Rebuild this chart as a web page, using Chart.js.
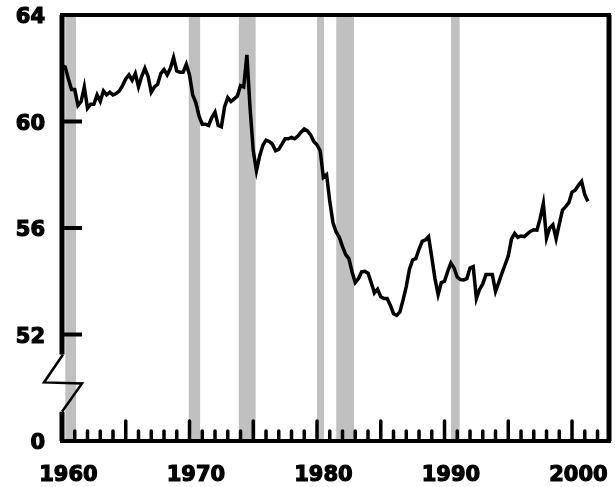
<!DOCTYPE html>
<html>
<head>
<meta charset="utf-8">
<script src="https://cdn.jsdelivr.net/npm/chart.js@4"></script>
<style>
  html, body { margin: 0; padding: 0; background: #fff; }
  #wrap { width: 615px; height: 487px; }
</style>
</head>
<body>
<div id="wrap"><canvas id="chart"></canvas></div>
<script>
// quarterly values, first quarter of 1960 onwards
const startYear = 1960;
const rate1960s = [
  62.1, 62.05, 61.6, 61.2, 61.2, 60.6, 60.75, 61.3, 60.5, 60.65,
  60.65, 61.0, 60.75, 61.15, 61.0, 61.1, 61.0, 61.05, 61.15, 61.35,
  61.6, 61.75, 61.55, 61.8, 61.3, 61.7, 62.0, 61.7, 61.1, 61.3,
  61.4, 61.8, 61.95, 61.75, 62.0, 62.4, 61.9, 61.85, 61.85, 62.15
];
const rate1970s = [
  61.75, 61.0, 60.7, 60.2, 59.9, 59.9, 59.85, 60.15, 60.35, 59.85,
  59.8, 60.55, 60.9, 60.75, 60.85, 60.95, 61.35, 61.3, 62.5, 60.5,
  58.9, 58.15, 58.7, 59.1, 59.3, 59.25, 59.15, 58.9, 58.95, 59.15,
  59.35, 59.35, 59.4, 59.35, 59.45, 59.6, 59.72, 59.65, 59.5, 59.25
];
const rate1980s = [
  59.12, 58.9, 57.9, 58.0, 57.0, 56.2, 55.85, 55.65, 55.3, 55.0,
  54.85, 54.35, 53.95, 54.1, 54.35, 54.37, 54.3, 53.95, 53.56, 53.7,
  53.42, 53.35, 53.35, 53.1, 52.78, 52.72, 52.85, 53.3, 53.8, 54.45,
  54.8, 54.85, 55.2, 55.5, 55.55, 55.67, 54.9, 54.1, 53.5, 53.95
];
const rate1990s = [
  54.0, 54.37, 54.68, 54.5, 54.15, 54.06, 54.05, 54.1, 54.5, 54.55,
  53.35, 53.7, 53.9, 54.25, 54.25, 54.25, 53.62, 53.95, 54.3, 54.62,
  54.95, 55.58, 55.8, 55.65, 55.7, 55.68, 55.78, 55.88, 55.93, 55.92,
  56.36, 56.92, 55.62, 56.0, 56.12, 55.6, 56.15, 56.67, 56.8, 56.95
];
const rate2000s = [57.35, 57.42, 57.6, 57.75, 57.25, 57.0];

// recession periods (shaded)
const recessionStart = [1960.25, 1969.92, 1973.85, 1980.0, 1981.5, 1990.5];
const recessionEnd = [1961.1, 1970.85, 1975.2, 1980.55, 1982.9, 1991.2];

// axis ticks; the bottom of the broken axis reads 0
const yTickValues = [48, 52, 56, 60, 64];
const yTickLabels = ['0', '52', '56', '60', '64'];
const xTickYears = [1960, 1970, 1980, 1990, 2000];

document.addEventListener('DOMContentLoaded', function () {
    const ctx = document.getElementById('chart');

    const rates = rate1960s.concat(rate1970s, rate1980s, rate1990s, rate2000s);
    const linePoints = rates.map((v, i) => ({ x: startYear + i / 4, y: v }));

    const bands = recessionStart.map((s, i) => ({
        data: [{ x: s, y: 64 }, { x: recessionEnd[i], y: 64 }],
        borderColor: '#c0c0c0',
        borderWidth: 1,
        backgroundColor: '#c0c0c0',
        fill: 'start',
        pointRadius: 0,
        order: 1
    }));

    const tickFont = { family: 'DejaVu Sans', size: 21, weight: 'bold' };

    // frame, broken y axis and the inward tick marks
    const frame = {
        id: 'frame',
        afterDatasetsDraw(chart) {
            const c = chart.ctx;
            const a = chart.chartArea;
            const x = chart.scales.x;
            const y = chart.scales.y;
            c.save();
            c.strokeStyle = '#000';

            c.lineWidth = 4;
            c.beginPath();
            c.moveTo(a.left - 2, a.top);
            c.lineTo(a.right + 2, a.top);
            c.moveTo(a.left - 2, a.bottom);
            c.lineTo(a.right + 2, a.bottom);
            c.stroke();

            c.lineWidth = 5;
            c.beginPath();
            c.moveTo(a.right, a.top);
            c.lineTo(a.right, a.bottom);
            c.stroke();

            // left axis with the break
            const bTop = y.getPixelForValue(51.25);
            const bMid = y.getPixelForValue(50.2);
            const bBot = y.getPixelForValue(49.1);
            c.beginPath();
            c.moveTo(a.left, a.top);
            c.lineTo(a.left, bTop);
            c.moveTo(a.left, bBot);
            c.lineTo(a.left, a.bottom);
            c.stroke();
            c.lineWidth = 2.5;
            c.beginPath();
            c.moveTo(a.left + 1, bTop);
            c.lineTo(a.left - 18, bMid);
            c.lineTo(a.left + 20, bMid + 1);
            c.lineTo(a.left, bBot);
            c.stroke();

            // y tick marks
            c.lineWidth = 4;
            c.beginPath();
            [52, 56, 60].forEach(v => {
                const py = y.getPixelForValue(v);
                c.moveTo(a.left, py);
                c.lineTo(a.left + 20, py);
            });
            c.stroke();

            // x tick marks, one per year
            c.lineWidth = 3.5;
            c.lineCap = 'round';
            c.beginPath();
            for (let yr = 1961; yr <= 2002; yr++) {
                const px = x.getPixelForValue(yr);
                c.moveTo(px, a.bottom);
                c.lineTo(px, a.bottom - (yr % 5 === 0 ? 20 : 10));
            }
            c.stroke();
            c.restore();
        }
    };

    new Chart(ctx, {
        type: 'line',
        data: {
            datasets: [{
                data: linePoints,
                borderColor: '#000',
                borderWidth: 3.5,
                pointRadius: 0,
                tension: 0,
                fill: false,
                order: 0
            }].concat(bands)
        },
        options: {
            responsive: true,
            maintainAspectRatio: false,
            animation: false,
            layout: { padding: { top: 15, right: 6, left: 0, bottom: 0 } },
            scales: {
                x: {
                    type: 'linear',
                    min: 1960,
                    max: 2002.9,
                    grid: { display: false },
                    border: { display: false },
                    afterBuildTicks: s => { s.ticks = xTickYears.map(v => ({ value: v })); },
                    afterFit: s => {
                        s.height = 46;
                        s.paddingLeft = 0;
                        s.paddingRight = 0;
                    },
                    ticks: {
                        callback: v => String(v),
                        labelOffset: 6.4,
                        padding: 14,
                        maxRotation: 0,
                        color: '#000',
                        textStrokeColor: '#000',
                        textStrokeWidth: 1.2,
                        font: tickFont
                    }
                },
                y: {
                    min: 48,
                    max: 64,
                    grid: { display: false },
                    border: { display: false },
                    afterBuildTicks: s => { s.ticks = yTickValues.map(v => ({ value: v })); },
                    afterFit: s => {
                        s.width = 62;
                        s.paddingTop = 0;
                        s.paddingBottom = 0;
                    },
                    ticks: {
                        callback: (v, i) => yTickLabels[i],
                        labelOffset: 3,
                        padding: 9,
                        color: '#000',
                        textStrokeColor: '#000',
                        textStrokeWidth: 1.2,
                        font: tickFont
                    }
                }
            },
            plugins: {
                legend: { display: false },
                tooltip: { enabled: false }
            }
        },
        plugins: [frame]
    });
});
</script>
</body>
</html>
